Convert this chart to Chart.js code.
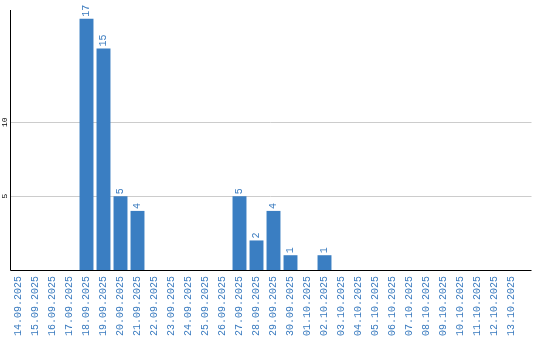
<!DOCTYPE html>
<html>
<head>
<meta charset="utf-8">
<script src="https://cdn.jsdelivr.net/npm/chart.js@4/dist/chart.umd.min.js"></script>
<style>
html,body{margin:0;padding:0;background:#fff;}
#wrap{width:540px;height:340px;position:relative;}
</style>
</head>
<body>
<div id="wrap"><canvas id="c" width="540" height="340"></canvas></div>
<script>
const categories = ["14.09.2025","15.09.2025","16.09.2025","17.09.2025","18.09.2025","19.09.2025","20.09.2025","21.09.2025","22.09.2025","23.09.2025","24.09.2025","25.09.2025","26.09.2025","27.09.2025","28.09.2025","29.09.2025","30.09.2025","01.10.2025","02.10.2025","03.10.2025","04.10.2025","05.10.2025","06.10.2025","07.10.2025","08.10.2025","09.10.2025","10.10.2025","11.10.2025","12.10.2025","13.10.2025"];
const counts = [0,0,0,0,17,15,5,4,0,0,0,0,0,5,2,4,1,0,1,0,0,0,0,0,0,0,0,0,0,0];
const yTicks = [5,10];
const yMax = 17.6;

const BLUE = '#3a7ec2';
const TEXT_BLUE = '#3a7bbf';
const FONT = '"Liberation Mono"';

const decor = {
  id: 'decor',
  beforeDatasetsDraw(chart) {
    const {ctx, chartArea, scales} = chart;
    const y = scales.y;
    ctx.save();
    ctx.strokeStyle = '#cccccc';
    ctx.lineWidth = 1;
    yTicks.forEach(v => {
      const py = Math.round(y.getPixelForValue(v)) + 0.5;
      ctx.beginPath();
      ctx.moveTo(chartArea.left, py);
      ctx.lineTo(chartArea.right + 11.5, py);
      ctx.stroke();
    });
    ctx.fillStyle = '#000';
    ctx.font = '8px ' + FONT;
    ctx.textAlign = 'center';
    ctx.textBaseline = 'middle';
    yTicks.forEach(v => {
      const py = y.getPixelForValue(v);
      ctx.save();
      ctx.translate(5, py);
      ctx.rotate(-Math.PI / 2);
      ctx.fillText(String(v), 0, 0);
      ctx.restore();
    });
    ctx.restore();
  },
  afterDatasetsDraw(chart) {
    const {ctx, chartArea, scales} = chart;
    const y = scales.y;
    ctx.save();
    ctx.strokeStyle = '#000';
    ctx.lineWidth = 1;
    const x0 = Math.round(chartArea.left) + 0.5;
    const y0 = Math.round(y.getPixelForValue(0)) + 0.5;
    ctx.beginPath();
    ctx.moveTo(x0, chartArea.top);
    ctx.lineTo(x0, y0);
    ctx.lineTo(chartArea.right + 11.5, y0);
    ctx.stroke();
    const meta = chart.getDatasetMeta(0);
    ctx.fillStyle = TEXT_BLUE;
    ctx.font = '10px ' + FONT;
    ctx.textAlign = 'left';
    ctx.textBaseline = 'middle';
    meta.data.forEach((bar, i) => {
      const v = counts[i];
      if (!v) return;
      ctx.save();
      ctx.translate(bar.x, bar.y - 2);
      ctx.rotate(-Math.PI / 2);
      ctx.fillText(String(v), 0, 0);
      ctx.restore();
    });
    ctx.restore();
  }
};

new Chart(document.getElementById('c'), {
  type: 'bar',
  data: {
    labels: categories,
    datasets: [{
      data: counts,
      backgroundColor: BLUE,
      borderWidth: 0,
      categoryPercentage: 1,
      barPercentage: 0.82
    }]
  },
  options: {
    responsive: false,
    animation: false,
    devicePixelRatio: 1,
    layout: { padding: { left: 10, right: 20, top: 10, bottom: 0 } },
    plugins: { legend: { display: false }, tooltip: { enabled: false } },
    scales: {
      x: {
        offset: true,
        grid: { display: false, drawTicks: false },
        border: { display: false },
        ticks: {
          autoSkip: false,
          minRotation: 90,
          maxRotation: 90,
          padding: 6,
          color: TEXT_BLUE,
          font: { family: 'Liberation Mono', size: 10 }
        },
        afterFit(s) { s.height = 70; }
      },
      y: {
        min: 0,
        max: yMax,
        grid: { display: false, drawTicks: false },
        border: { display: false },
        ticks: { display: false },
        afterFit(s) { s.width = 0; },
        afterBuildTicks(s) { s.ticks = yTicks.map(v => ({ value: v })); }
      }
    }
  },
  plugins: [decor]
});
</script>
</body>
</html>
